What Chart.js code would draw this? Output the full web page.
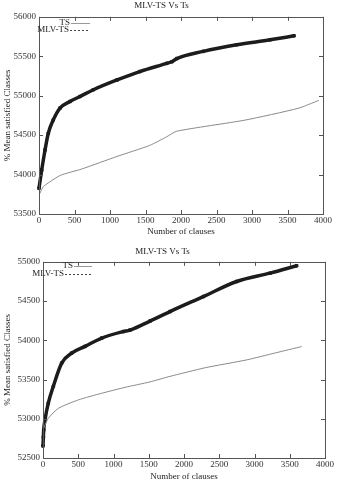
<!DOCTYPE html>
<html>
<head>
<meta charset="utf-8">
<script src="https://cdn.jsdelivr.net/npm/chart.js@4/dist/chart.umd.min.js"></script>
<style>
  body { margin: 0; background: #fff; }
  canvas { position: absolute; left: 0; }
</style>
</head>
<body>
<canvas id="chartTop" width="339" height="240" style="top:0"></canvas>
<canvas id="chartBottom" width="339" height="243" style="top:240px"></canvas>
<script>
// data
const titleText = 'MLV-TS Vs Ts';
const xTitle = 'Number of clauses';
const yTitle = '% Mean satisfied Classes';
const seriesNames = ['TS', 'MLV-TS'];

// upper chart
const topTsX = [0, 60, 150, 300, 600, 1100, 1560, 1800, 1940, 2900, 3650, 3940];
const topTsY = [53740, 53845, 53905, 53990, 54070, 54230, 54370, 54480, 54550, 54690, 54840, 54940];
const topMlvX = [0, 38, 85, 131, 201, 296, 437, 577, 765, 1100, 1420, 1800, 1870, 1940, 2314, 2784, 3254, 3592];
const topMlvY = [53826, 54058, 54312, 54524, 54693, 54843, 54927, 54989, 55075, 55200, 55306, 55410, 55430, 55470, 55562, 55645, 55708, 55759];
const topYTicks = [53500, 54000, 54500, 55000, 55500, 56000];

// lower chart
const botTsX = [0, 19, 75, 217, 501, 833, 1163, 1518, 1801, 2300, 2889, 3300, 3669];
const botTsY = [52860, 52900, 53006, 53133, 53240, 53325, 53400, 53470, 53540, 53650, 53750, 53840, 53920];
const botMlvX = [0, 5, 10, 28, 75, 146, 265, 407, 596, 833, 1139, 1234, 1518, 1801, 2274, 2747, 3220, 3598];
const botMlvY = [52653, 52765, 52857, 52985, 53199, 53412, 53709, 53837, 53922, 54028, 54111, 54130, 54245, 54366, 54557, 54749, 54855, 54949];
const botYTicks = [52500, 53000, 53500, 54000, 54500, 55000];

const xTicks = [0, 500, 1000, 1500, 2000, 2500, 3000, 3500, 4000];

const pts = (xs, ys) => xs.map((x, i) => ({ x: x, y: ys[i] }));
const font = { family: "'Liberation Serif', serif", size: 9, weight: 'normal' };

// box around the plot + gnuplot-like inward ticks on all sides
const framePlugin = {
  id: 'frame',
  afterDraw(chart) {
    const { ctx, chartArea: a, scales } = chart;
    ctx.save();
    ctx.strokeStyle = '#555';
    ctx.lineWidth = 1;
    ctx.strokeRect(Math.round(a.left) + 0.5, Math.round(a.top) + 0.5, Math.round(a.right - a.left), Math.round(a.bottom - a.top));
    ctx.beginPath();
    scales.x.ticks.forEach(t => {
      const px = Math.round(scales.x.getPixelForValue(t.value)) + 0.5;
      ctx.moveTo(px, a.bottom); ctx.lineTo(px, a.bottom - 4);
      ctx.moveTo(px, a.top); ctx.lineTo(px, a.top + 4);
    });
    scales.y.ticks.forEach(t => {
      const py = Math.round(scales.y.getPixelForValue(t.value)) + 0.5;
      ctx.moveTo(a.left, py); ctx.lineTo(a.left + 4, py);
      ctx.moveTo(a.right, py); ctx.lineTo(a.right - 4, py);
    });
    ctx.stroke();
    ctx.restore();
  }
};

// legend: text right aligned, line sample after it
const keyPlugin = {
  id: 'key',
  afterDraw(chart, args, opts) {
    const { ctx } = chart;
    ctx.save();
    ctx.font = "9px 'Liberation Serif', serif";
    ctx.textAlign = 'right';
    ctx.textBaseline = 'middle';
    chart.data.datasets.forEach((ds, i) => {
      const e = opts.entries[i];
      ctx.fillStyle = '#222';
      ctx.fillText(ds.label, e.x, e.y);
      ctx.strokeStyle = i === 1 ? '#444' : '#999';
      ctx.lineWidth = 1;
      ctx.setLineDash(i === 1 ? [2, 2] : []);
      ctx.beginPath();
      ctx.moveTo(e.x + 1, Math.round(e.y) + 0.5);
      ctx.lineTo(opts.end, Math.round(e.y) + 0.5);
      ctx.stroke();
      if (i === 1) {
        ctx.fillStyle = '#1c1c1c';
        ctx.fillRect(e.mark - 1.5, Math.round(e.y) - 1, 3, 3);
      }
    });
    ctx.setLineDash([]);
    ctx.restore();
  }
};

function makeChart(id, tsData, mlvData, yTicks, o) {
  return new Chart(document.getElementById(id), {
    type: 'scatter',
    data: {
      datasets: [
        {
          label: seriesNames[0],
          data: tsData,
          showLine: true,
          borderColor: '#8a8a8a',
          borderWidth: 1,
          pointRadius: 0,
          tension: 0.2
        },
        {
          label: seriesNames[1],
          data: mlvData,
          showLine: true,
          borderColor: '#1c1c1c',
          backgroundColor: '#1c1c1c',
          borderWidth: 3.5,
          pointStyle: 'rect',
          pointRadius: 1.8,
          pointBorderWidth: 1,
          cubicInterpolationMode: 'monotone',
          clip: 4
        }
      ]
    },
    options: {
      responsive: false,
      animation: false,
      devicePixelRatio: 1,
      layout: { padding: { top: o.padTop, right: o.padRight, left: 0, bottom: 0 } },
      plugins: {
        legend: { display: false },
        tooltip: { enabled: false },
        title: {
          display: true,
          text: titleText,
          color: '#222',
          font: font,
          padding: { top: 0, bottom: o.titleGap }
        },
        key: o.key
      },
      scales: {
        x: {
          type: 'linear',
          min: 0,
          max: 4000,
          afterBuildTicks: s => { s.ticks = xTicks.map(v => ({ value: v })); },
          afterFit: s => { s.height = o.xHeight; },
          ticks: { color: '#333', font: font, padding: 1, maxRotation: 0, callback: v => String(v) },
          grid: { display: false, drawTicks: false },
          border: { display: false },
          title: { display: true, text: xTitle, color: '#222', font: font, padding: { top: 0, bottom: o.xTitlePad } }
        },
        y: {
          min: yTicks[0],
          max: yTicks[yTicks.length - 1],
          afterBuildTicks: s => { s.ticks = yTicks.map(v => ({ value: v })); },
          afterFit: s => { s.width = o.yWidth; },
          ticks: { color: '#333', font: font, padding: 3, callback: v => String(v) },
          grid: { display: false, drawTicks: false },
          border: { display: false },
          title: { display: true, text: yTitle, color: '#222', font: font, padding: { top: 2, bottom: 2 } }
        }
      }
    },
    plugins: [framePlugin, keyPlugin]
  });
}

makeChart('chartTop', pts(topTsX, topTsY), pts(topMlvX, topMlvY), topYTicks, {
  padTop: 0, padRight: 16, titleGap: 6, xHeight: 26, xTitlePad: 3, yWidth: 39,
  key: { entries: [{ x: 70, y: 23 }, { x: 69, y: 30 }], end: 90, mark: 81 }
});

makeChart('chartBottom', pts(botTsX, botTsY), pts(botMlvX, botMlvY), botYTicks, {
  padTop: 6, padRight: 14, titleGap: 5, xHeight: 25, xTitlePad: 1, yWidth: 43,
  key: { entries: [{ x: 73, y: 26 }, { x: 64, y: 34 }], end: 92, mark: 83 }
});
</script>
</body>
</html>
